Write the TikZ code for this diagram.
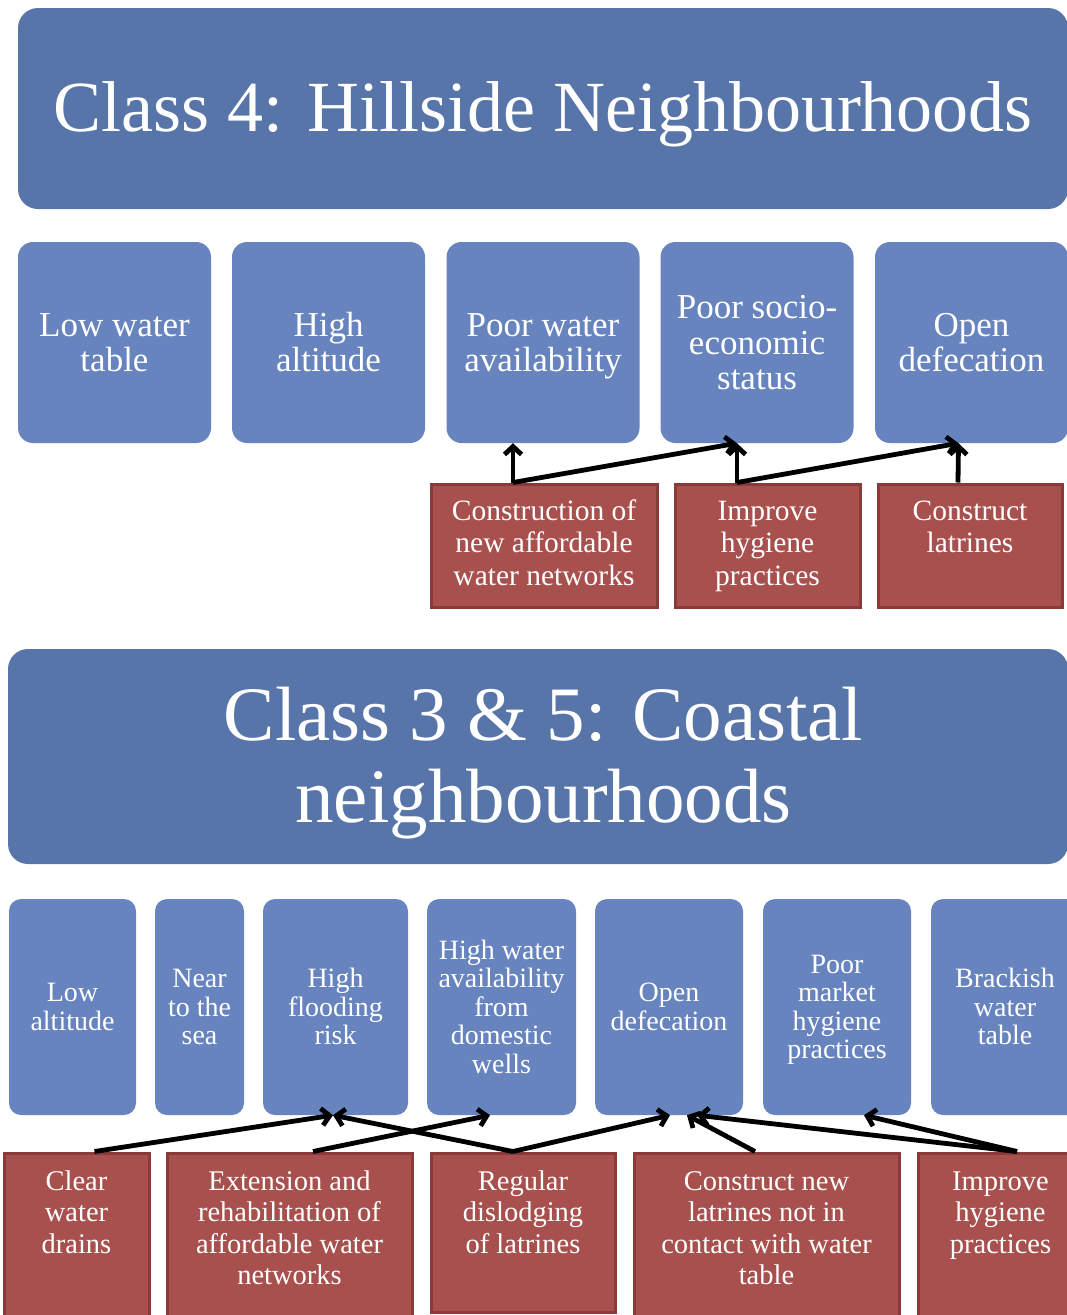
\documentclass[tikz,border=0pt]{standalone}
\usepackage{fontspec}
\setmainfont{Liberation Serif}
\usetikzlibrary{arrows.meta}
\definecolor{titleblue}{HTML}{5875A9}
\definecolor{boxblue}{HTML}{6784BE}
\definecolor{boxred}{HTML}{A8504E}
\definecolor{redborder}{HTML}{8A3A39}
\tikzset{
  banner/.style={rectangle, fill=titleblue, rounded corners=20pt, inner sep=0pt},
  factorA/.style={rectangle, fill=boxblue, rounded corners=15pt, inner sep=0pt, minimum width=193pt, minimum height=201pt},
  factorB/.style={rectangle, fill=boxblue, rounded corners=12pt, inner sep=0pt, minimum height=216pt},
  actionA/.style={rectangle, fill=boxred, draw=redborder, line width=3pt, inner sep=0pt, minimum height=123pt},
  actionB/.style={rectangle, fill=boxred, draw=redborder, line width=3pt, inner sep=0pt},
  ttl/.style={text=white, align=center, inner sep=0pt},
  txtA/.style={text=white, align=center, inner sep=0pt, font=\fontsize{35}{35.5}\selectfont},
  txtB/.style={text=white, align=center, inner sep=0pt, font=\fontsize{28}{28.5}\selectfont},
  txtRA/.style={text=white, align=center, inner sep=0pt, anchor=north, font=\fontsize{29.5}{32.5}\selectfont},
  txtRB/.style={text=white, align=center, inner sep=0pt, anchor=north, font=\fontsize{28.5}{31.5}\selectfont},
  arr/.style={line width=4.8pt, -{Straight Barb[length=8pt,width=17pt]}}
}
\begin{document}
\begin{tikzpicture}[x=1pt,y=-1pt]
\useasboundingbox (0,0) rectangle (1067,1315);
\clip (0,0) rectangle (1067,1315);
\fill[white] (0,0) rectangle (1067,1315);

% ---------- Class 4 ----------
\node[banner, minimum width=1050pt, minimum height=201pt] (ban1) at (543,108.5) {};
\node[ttl, anchor=base, font=\fontsize{72}{80}\selectfont] (ban1t) at (543,131) {Class 4: Hillside Neighbourhoods};

\node[factorA] (a1) at (114.5,342.5) {};
\node[factorA] (a2) at (328.5,342.5) {};
\node[factorA] (a3) at (543,342.5) {};
\node[factorA] (a4) at (757,342.5) {};
\node[factorA] (a5) at (971.5,342.5) {};
\node[txtA, yshift=-4.5pt] (a1t) at (a1.center) {\strut Low water\\table\strut};
\node[txtA, yshift=-4.5pt] (a2t) at (a2.center) {\strut High\\altitude\strut};
\node[txtA, yshift=-4.5pt] (a3t) at (a3.center) {\strut Poor water\\availability\strut};
\node[txtA, yshift=-4.5pt] (a4t) at (a4.center) {\strut Poor socio-\\economic\\status\strut};
\node[txtA, yshift=-4.5pt] (a5t) at (a5.center) {\strut Open\\defecation\strut};

\node[actionA, minimum width=226pt] (r1) at (544,545.5) {};
\node[actionA, minimum width=185pt] (r2) at (767.5,545.5) {};
\node[actionA, minimum width=184pt] (r3) at (970,545.5) {};
\node[txtRA] (r1t) at (544,497.25) {\strut Construction of\\new affordable\\water networks};
\node[txtRA] (r2t) at (767.5,497.25) {\strut Improve\\hygiene\\practices};
\node[txtRA] (r3t) at (970,497.25) {\strut Construct\\latrines};

\draw[arr] ([xshift=-31pt]r1.north) -- ([xshift=-30pt]a3.south);
\draw[arr] ([xshift=-31pt]r1.north) -- ([xshift=-20pt]a4.south);
\draw[arr] ([xshift=-30.5pt]r2.north) -- ([xshift=-20pt]a4.south);
\draw[arr] ([xshift=-30.5pt]r2.north) -- ([xshift=-13pt]a5.south);
\draw[arr] ([xshift=-12pt]r3.north) -- ([xshift=-13pt]a5.south);

% ---------- Class 3 & 5 ----------
\node[banner, minimum width=1060pt, minimum height=215pt] (ban2) at (538,756.5) {};
\node[ttl, anchor=north, font=\fontsize{77}{82}\selectfont] (ban2t) at (543.5,682.6) {\strut Class 3 \& 5: Coastal\\neighbourhoods};

\node[factorB, minimum width=127pt] (b1) at (72.5,1007) {};
\node[factorB, minimum width=89pt] (b2) at (199.5,1007) {};
\node[factorB, minimum width=145pt] (b3) at (335.5,1007) {};
\node[factorB, minimum width=149pt] (b4) at (501.5,1007) {};
\node[factorB, minimum width=148pt] (b5) at (669,1007) {};
\node[factorB, minimum width=148pt] (b6) at (837,1007) {};
\node[factorB, minimum width=148pt] (b7) at (1005,1007) {};
\node[txtB, yshift=-3.5pt] (b1t) at (b1.center) {\strut Low\\altitude\strut};
\node[txtB, yshift=-3.5pt] (b2t) at (b2.center) {\strut Near\\to the\\sea\strut};
\node[txtB, yshift=-3.5pt] (b3t) at (b3.center) {\strut High\\flooding\\risk\strut};
\node[txtB, yshift=-3.5pt] (b4t) at (b4.center) {\strut High water\\availability\\from\\domestic\\wells\strut};
\node[txtB, yshift=-3.5pt] (b5t) at (b5.center) {\strut Open\\defecation\strut};
\node[txtB, yshift=-3.5pt] (b6t) at (b6.center) {\strut Poor\\market\\hygiene\\practices\strut};
\node[txtB, yshift=-3.5pt] (b7t) at (b7.center) {\strut Brackish\\water\\table\strut};

\node[actionB, minimum width=145pt, minimum height=187pt] (s1) at (76.5,1246.5) {};
\node[actionB, minimum width=245pt, minimum height=187pt] (s2) at (289.5,1246.5) {};
\node[actionB, minimum width=184pt, minimum height=159pt] (s3) at (523,1232.5) {};
\node[actionB, minimum width=265pt, minimum height=187pt] (s4) at (766.5,1246.5) {};
\node[actionB, minimum width=165pt, minimum height=187pt] (s5) at (1000.5,1246.5) {};
\node[txtRB] (s1t) at (76.5,1168) {\strut Clear\\water\\drains};
\node[txtRB] (s2t) at (289.5,1168) {\strut Extension and\\rehabilitation of\\affordable water\\networks};
\node[txtRB] (s3t) at (523,1168) {\strut Regular\\dislodging\\of latrines};
\node[txtRB] (s4t) at (766.5,1168) {\strut Construct new\\latrines not in\\contact with water\\table};
\node[txtRB] (s5t) at (1000.5,1168) {\strut Improve\\hygiene\\practices};

\draw[arr] ([xshift=18pt]s1.north) -- ([xshift=-2.5pt]b3.south);
\draw[arr] ([xshift=23.5pt]s2.north) -- ([xshift=-11.5pt]b4.south);
\draw[arr] ([xshift=-10pt]s3.north) -- ([xshift=-2.5pt]b3.south);
\draw[arr] ([xshift=-10pt]s3.north) -- ([xshift=1pt]b5.south);
\draw[arr] ([xshift=-11.5pt]s4.north) -- ([xshift=18pt]b5.south);
\draw[arr] ([xshift=16.5pt]s5.north) -- ([xshift=28pt]b5.south);
\draw[arr] ([xshift=16.5pt]s5.north) -- ([xshift=27pt]b6.south);
\end{tikzpicture}
\end{document}
